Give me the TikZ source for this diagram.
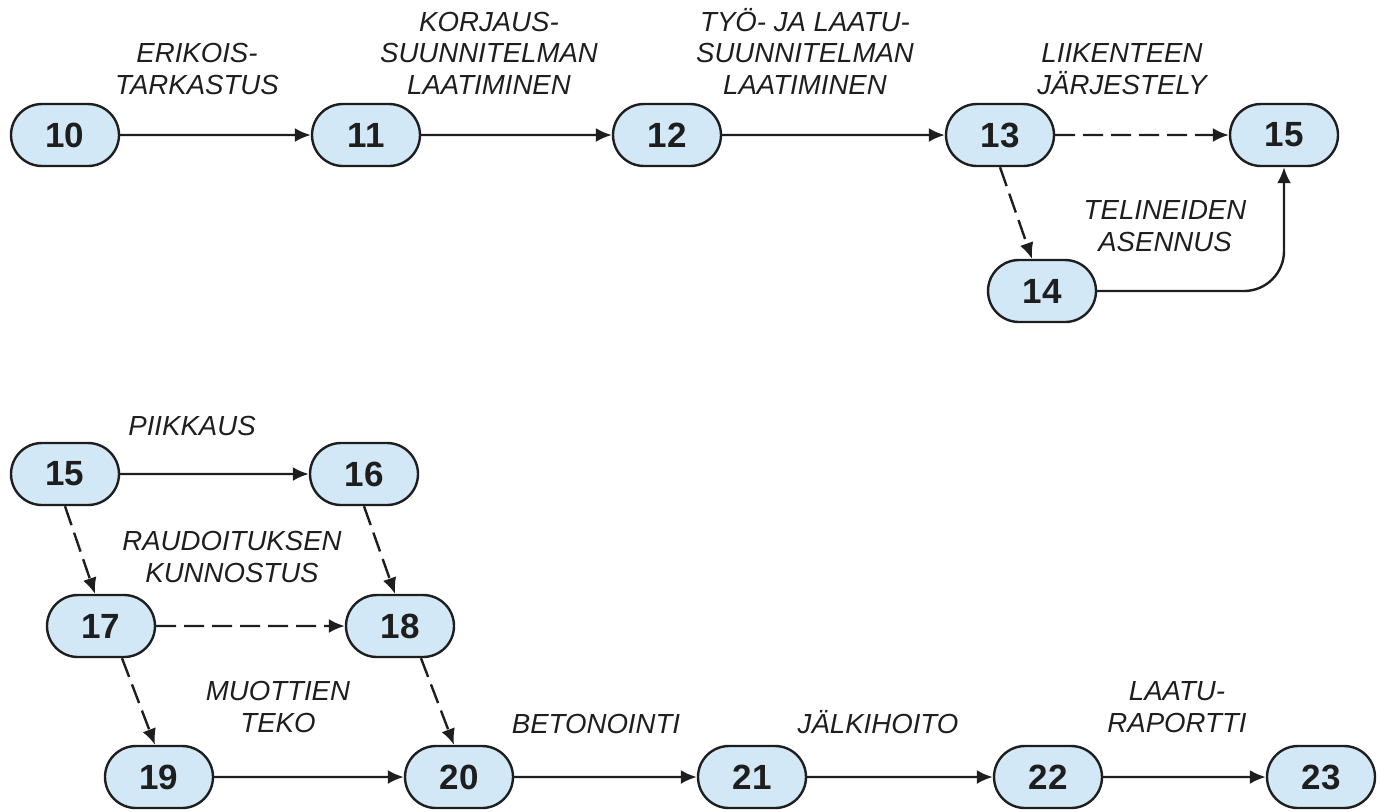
\documentclass[tikz,border=0pt]{standalone}
\usepackage{fontspec}
\setmainfont{Liberation Sans}
\usetikzlibrary{arrows.meta,shapes.misc,calc}
\definecolor{nodefill}{RGB}{210,232,246}
\definecolor{ink}{RGB}{30,30,30}
\begin{document}
\begin{tikzpicture}[x=0.5pt,y=-0.5pt,
  ev/.style={rounded rectangle, draw=ink, line width=1.2pt, fill=nodefill,
    minimum width=54pt, minimum height=31pt, inner sep=0pt,
    font=\fontsize{17.5}{20}\selectfont\bfseries, text=ink},
  act/.style={font=\fontsize{13.8}{15.7}\selectfont\itshape, text=ink,
    align=center, inner sep=0pt, anchor=base},
  arr/.style={-{Latex[length=8pt,width=7pt]}, line width=1.2pt, draw=ink},
  darr/.style={arr, dash pattern=on 10pt off 4pt}]
\useasboundingbox (0,0) rectangle (1380,811);
% events
\node[ev] (n10) at (65,135) {10};
\node[ev] (n11) at (366,135) {11};
\node[ev] (n12) at (667,135) {12};
\node[ev] (n13) at (1000,135) {13};
\node[ev] (n15a) at (1284,135) {15};
\node[ev] (n14) at (1042,291) {14};
\node[ev] (n15b) at (65,474) {15};
\node[ev] (n16) at (364,474) {16};
\node[ev] (n17) at (101,626) {17};
\node[ev] (n18) at (400,626) {18};
\node[ev] (n19) at (159,777) {19};
\node[ev] (n20) at (459,777) {20};
\node[ev] (n21) at (752,777) {21};
\node[ev] (n22) at (1048,777) {22};
\node[ev] (n23) at (1321,777) {23};
% activities (anchor = baseline of last line)
\node[act] (a1) at (197,94) {ERIKOIS-\\TARKASTUS};
\node[act] (a2) at (489,94) {KORJAUS-\\SUUNNITELMAN\\LAATIMINEN};
\node[act] (a3) at (805,94) {TYÖ- JA LAATU-\\SUUNNITELMAN\\LAATIMINEN};
\node[act] (a4) at (1122,94) {LIIKENTEEN\\JÄRJESTELY};
\node[act] (a5) at (1165,251) {TELINEIDEN\\ASENNUS};
\node[act] (a6) at (192,435) {PIIKKAUS};
\node[act] (a7) at (232,582) {RAUDOITUKSEN\\KUNNOSTUS};
\node[act] (a8) at (278,732) {MUOTTIEN\\TEKO};
\node[act] (a9) at (596,733) {BETONOINTI};
\node[act] (a10) at (878,733) {JÄLKIHOITO};
\node[act] (a11) at (1177,732) {LAATU-\\RAPORTTI};
% connectors
\draw[arr] (n10) -- (n11);
\draw[arr] (n11) -- (n12);
\draw[arr] (n12) -- (n13);
\draw[darr] (n13) -- (n15a);
\draw[darr] (n13.south) -- ([xshift=-5pt]n14.north);
\draw[arr, rounded corners=20pt] (n14.east) -| (n15a.south);
\draw[arr] (n15b) -- (n16);
\draw[darr] (n15b.south) -- ([xshift=-3pt]n17.north);
\draw[darr] (n16.south) -- ([xshift=-2.5pt]n18.north);
\draw[darr] (n17) -- (n18);
\draw[darr] ([xshift=10.5pt]n17.south) -- ([xshift=-2pt]n19.north);
\draw[darr] ([xshift=10.5pt]n18.south) -- ([xshift=-2.5pt]n20.north);
\draw[arr] (n19) -- (n20);
\draw[arr] (n20) -- (n21);
\draw[arr] (n21) -- (n22);
\draw[arr] (n22) -- (n23);
\end{tikzpicture}
\end{document}
